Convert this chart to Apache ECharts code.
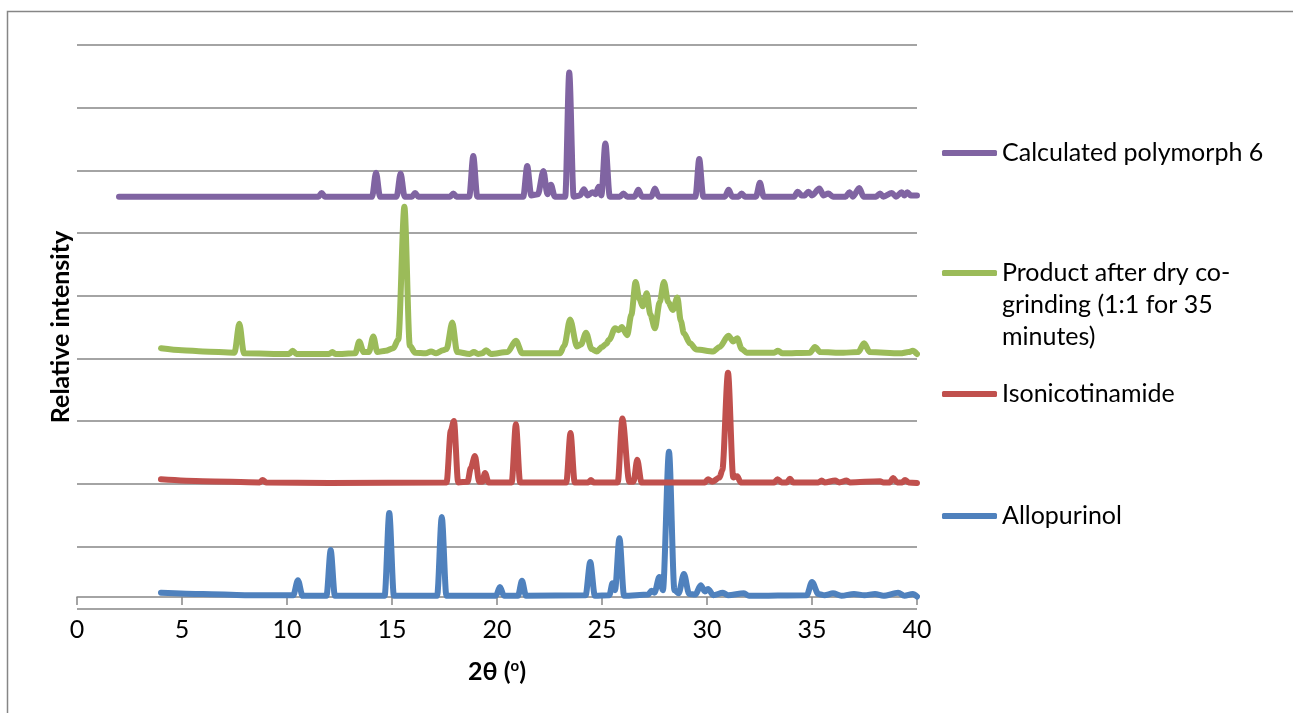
<!DOCTYPE html>
<html>
<head>
<meta charset="utf-8">
<script src="https://cdn.jsdelivr.net/npm/echarts@6/dist/echarts.min.js"></script>
<style>
  html, body { margin: 0; padding: 0; background: #fff; }
  #chart { width: 1293px; height: 713px; }
</style>
</head>
<body>
<div id="chart"></div>
<script>
// ---- Data ----
const seriesNames = [
  'Allopurinol',
  'Isonicotinamide',
  'Product after dry co-\ngrinding (1:1 for 35\nminutes)',
  'Calculated polymorph 6'
];
const seriesColors = ['#4F81BD', '#C0504D', '#9BBB59', '#8064A2'];
const xTicks = [0, 5, 10, 15, 20, 25, 30, 35, 40];

const allopurinol = [
  [4,0.26],[6,0.24],[8,0.22],[10.3,0.22],[10.52,0.46],[10.74,0.21],[11.88,0.21],[12.08,0.94],[12.28,0.21],
  [14.65,0.21],[14.87,1.53],[15.09,0.21],[17.15,0.21],[17.37,1.47],[17.59,0.21],[19.95,0.21],[20.14,0.35],
  [20.33,0.21],[21.0,0.21],[21.19,0.45],[21.38,0.21],[24.22,0.22],[24.44,0.75],[24.66,0.21],[25.35,0.22],
  [25.5,0.41],[25.62,0.3],[25.83,1.13],[26.05,0.21],[27.2,0.23],[27.36,0.29],[27.5,0.26],[27.73,0.51],
  [27.9,0.3],[28.19,2.51],[28.45,0.3],[28.65,0.25],[28.9,0.56],[29.15,0.24],[29.45,0.23],[29.7,0.38],
  [29.9,0.28],[30.05,0.32],[30.3,0.22],[30.76,0.26],[31.0,0.22],[31.76,0.25],[32.0,0.21],[34.75,0.22],
  [35.0,0.43],[35.3,0.24],[35.6,0.22],[36.0,0.25],[36.4,0.21],[37.0,0.24],[37.5,0.22],[38.0,0.24],
  [38.4,0.21],[39.1,0.26],[39.4,0.21],[39.8,0.24],[40,0.2]
];
const isonicotinamide = [
  [4,2.07],[6,2.04],[8.7,2.02],[8.84,2.06],[9,2.02],[12,2.01],[17.6,2.02],[17.8,2.85],[17.95,3.0],
  [18.15,2.02],[18.6,2.03],[18.75,2.25],[18.95,2.44],[19.15,2.03],[19.3,2.03],[19.43,2.17],[19.6,2.02],
  [20.7,2.02],[20.9,2.95],[21.1,2.02],[23.3,2.02],[23.5,2.81],[23.7,2.02],[24.35,2.02],[24.48,2.06],
  [24.6,2.02],[25.75,2.02],[25.97,3.04],[26.3,2.03],[26.5,2.03],[26.68,2.38],[26.88,2.02],[29.9,2.02],
  [30.05,2.07],[30.25,2.03],[30.6,2.1],[30.73,2.22],[31.0,3.77],[31.25,2.1],[31.44,2.12],[31.6,2.02],
  [33.2,2.02],[33.36,2.07],[33.55,2.02],[33.8,2.02],[33.95,2.08],[34.1,2.02],[35.3,2.02],[35.46,2.05],
  [35.6,2.02],[36.1,2.05],[36.3,2.02],[36.65,2.05],[36.8,2.02],[38.24,2.04],[38.4,2.02],[38.7,2.02],
  [38.87,2.09],[39.05,2.02],[39.3,2.02],[39.43,2.06],[39.6,2.02],[40,2.01]
];
const coGrindProduct = [
  [4,4.16],[5,4.13],[6,4.11],[7.5,4.09],[7.73,4.55],[7.95,4.08],[10.1,4.07],[10.27,4.12],[10.45,4.07],
  [12.0,4.07],[12.16,4.1],[12.3,4.07],[13.25,4.08],[13.44,4.27],[13.65,4.1],[13.9,4.1],[14.11,4.35],
  [14.3,4.1],[14.7,4.12],[15.06,4.16],[15.3,4.3],[15.59,6.42],[15.85,4.2],[16.1,4.09],[16.6,4.08],
  [16.86,4.11],[17.1,4.08],[17.43,4.13],[17.6,4.15],[17.87,4.57],[18.1,4.1],[18.7,4.07],[18.9,4.1],
  [19.1,4.07],[19.3,4.08],[19.48,4.13],[19.7,4.07],[20.5,4.1],[20.9,4.28],[21.2,4.08],[23.0,4.08],
  [23.2,4.2],[23.48,4.62],[23.81,4.19],[24.0,4.22],[24.24,4.41],[24.5,4.15],[24.75,4.11],[25.0,4.18],
  [25.19,4.23],[25.35,4.3],[25.62,4.48],[25.8,4.45],[25.94,4.5],[26.2,4.37],[26.4,4.7],[26.6,5.22],
  [26.78,4.95],[26.94,4.83],[27.13,5.04],[27.3,4.7],[27.52,4.48],[27.75,4.9],[27.95,5.22],[28.15,4.9],
  [28.37,4.77],[28.59,4.97],[28.75,4.6],[28.9,4.4],[29.19,4.24],[29.5,4.14],[30.3,4.11],[30.6,4.18],
  [31.02,4.36],[31.25,4.27],[31.44,4.32],[31.65,4.15],[31.89,4.09],[33.2,4.09],[33.38,4.12],[33.6,4.08],
  [34.9,4.09],[35.14,4.18],[35.4,4.1],[36.5,4.09],[37.2,4.1],[37.48,4.24],[37.75,4.1],[39.2,4.08],
  [39.6,4.1],[39.8,4.12],[40,4.07]
];
const polymorph6 = [
  [2,6.58],[11.5,6.58],[11.65,6.64],[11.8,6.58],[14.05,6.58],[14.24,6.96],[14.43,6.58],[15.22,6.58],
  [15.41,6.95],[15.6,6.58],[15.95,6.58],[16.1,6.64],[16.25,6.58],[17.77,6.58],[17.92,6.63],[18.07,6.58],
  [18.68,6.58],[18.87,7.23],[19.06,6.58],[21.25,6.58],[21.44,7.07],[21.63,6.6],[21.95,6.62],[22.21,6.99],
  [22.4,6.62],[22.57,6.77],[22.75,6.58],[23.25,6.58],[23.44,8.56],[23.65,6.58],[23.95,6.6],[24.14,6.7],
  [24.3,6.6],[24.56,6.65],[24.7,6.62],[24.84,6.74],[24.97,6.6],[25.16,7.43],[25.37,6.58],[25.85,6.58],
  [26.02,6.63],[26.2,6.58],[26.55,6.58],[26.73,6.69],[26.9,6.58],[27.35,6.58],[27.52,6.71],[27.7,6.58],
  [29.45,6.58],[29.63,7.18],[29.82,6.58],[30.85,6.58],[31.03,6.69],[31.2,6.58],[31.5,6.58],[31.65,6.63],
  [31.8,6.58],[32.33,6.58],[32.52,6.8],[32.7,6.58],[34.15,6.58],[34.32,6.66],[34.5,6.6],[34.65,6.6],
  [34.83,6.66],[35.0,6.6],[35.35,6.71],[35.55,6.6],[35.78,6.63],[36.0,6.58],[36.6,6.58],[36.78,6.65],
  [36.95,6.58],[37.25,6.72],[37.45,6.58],[38.05,6.58],[38.24,6.63],[38.4,6.58],[38.8,6.64],[39.0,6.58],
  [39.27,6.65],[39.4,6.6],[39.54,6.65],[39.7,6.6],[40,6.6]
];
const seriesData = [allopurinol, isonicotinamide, coGrindProduct, polymorph6];

// ---- Chart ----
const FONT = 'Lato';
const GRAY = '#868686';
const chart = echarts.init(document.getElementById('chart'), null, { renderer: 'canvas' });

const LH = 32;
const legendCenters = [516, 394, 273, 153];
const legends = seriesNames.map((name, i) => {
  const lines = name.split('\n').length;
  // multi-line entries: pad with empty lines above so the first line sits beside the icon
  const shownLines = lines + (lines - 1);
  const boxH = shownLines * LH;
  return {
    data: [name],
    orient: 'vertical',
    left: 942,
    top: legendCenters[i] - boxH / 2,
    padding: 0,
    itemGap: 0,
    itemWidth: 55,
    itemHeight: 6,
    icon: 'roundRect',
    selectedMode: false,
    formatter: function (n) {
      return (lines > 1 ? '\n'.repeat(lines - 1) : '') + n;
    },
    textStyle: { fontFamily: FONT, fontSize: 25, color: '#000', lineHeight: LH }
  };
});

const option = {
  backgroundColor: '#fff',
  animation: false,
  graphic: [{
    type: 'rect', silent: true,
    shape: { x: 7.5, y: 11.5, width: 1320, height: 740 },
    style: { fill: 'none', stroke: GRAY, lineWidth: 1.5 }
  }],
  legend: legends,
  grid: { left: 77, right: 376, top: 45, bottom: 104, containLabel: false },
  xAxis: {
    type: 'value', min: xTicks[0], max: xTicks[xTicks.length - 1], interval: 5,
    offset: -12,
    name: '2θ ({s|o})',
    nameLocation: 'middle', nameGap: 62,
    nameTextStyle: {
      fontFamily: FONT, fontSize: 25, fontWeight: 'bold', color: '#000',
      rich: { s: { fontFamily: FONT, fontSize: 15, fontWeight: 'bold', verticalAlign: 'top', padding: [0, 0, 8, 0] } }
    },
    axisLine: { show: true, onZero: false, lineStyle: { color: GRAY, width: 1.5 } },
    axisTick: { show: true, length: 8, lineStyle: { color: GRAY, width: 1.5 } },
    axisLabel: { fontFamily: FONT, fontSize: 25, color: '#000', margin: 20 },
    splitLine: { show: false }
  },
  yAxis: {
    type: 'value', min: 0, max: 9, interval: 1,
    name: 'Relative intensity',
    nameLocation: 'middle', nameGap: 4,
    nameTextStyle: { fontFamily: FONT, fontSize: 25, fontWeight: 'bold', color: '#000' },
    axisLine: { show: false },
    axisTick: { show: false },
    axisLabel: { show: false },
    splitLine: { show: true, lineStyle: { color: GRAY, width: 1.5 } }
  },
  series: seriesNames.map((name, i) => ({
    name: name,
    type: 'line',
    data: seriesData[i],
    showSymbol: false,
    symbol: 'none',
    smooth: 0.3,
    smoothMonotone: 'x',
    color: seriesColors[i],
    itemStyle: { color: seriesColors[i] },
    lineStyle: { color: seriesColors[i], width: 6, join: 'round', cap: 'round' }
  }))
};
chart.setOption(option);
</script>
</body>
</html>
